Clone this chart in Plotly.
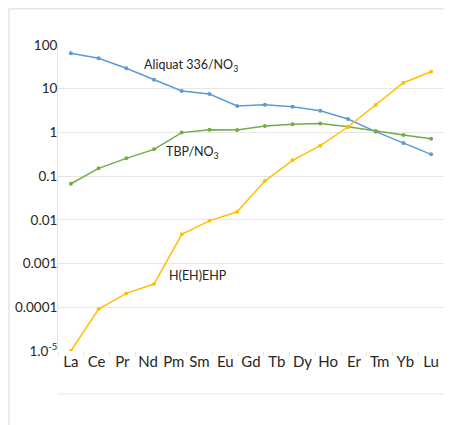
import plotly.graph_objects as go

# Category tick labels (15 lanthanides)
elements = ["La", "Ce", "Pr", "Nd", "Pm", "Sm", "Eu", "Gd", "Tb", "Dy", "Ho", "Er", "Tm", "Yb", "Lu"]

# Data points (14 per series, spread from La to Lu as in the reference)
point_index = list(range(14))
aliquat = [64.4, 49.6, 29.3, 16.1, 8.85, 7.56, 4.02, 4.3, 3.87, 3.14, 2.03, 1.04, 0.57, 0.315]
tbp = [0.067, 0.151, 0.255, 0.41, 0.99, 1.15, 1.13, 1.40, 1.53, 1.61, 1.35, 1.08, 0.87, 0.72]
hehehp = [1.0e-5, 9.1e-5, 2.08e-4, 3.4e-4, 4.67e-3, 9.5e-3, 0.0153, 0.077, 0.23, 0.497, 1.33, 4.24, 13.7, 24.5]

y_tickvals = [100, 10, 1, 0.1, 0.01, 0.001, 0.0001, 0.00001]
y_ticktext = ["100", "10", "1", "0.1", "0.01", "0.001", "0.0001", "1.0<sup>-5</sup>"]

BLUE = "#5B9BD5"
GREEN = "#70AD47"
YELLOW = "#FFC000"
GRID = "#E6E6E6"
TEXT = "#262626"
FONT = "Lato"

fig = go.Figure()
for vals, col in [(aliquat, BLUE), (tbp, GREEN), (hehehp, YELLOW)]:
    fig.add_trace(go.Scatter(
        x=point_index, y=vals, mode="lines+markers",
        line=dict(color=col, width=1.5),
        marker=dict(color=col, size=4),
        showlegend=False, cliponaxis=True, xaxis="x", yaxis="y",
    ))

# invisible trace for the category label axis
fig.add_trace(go.Scatter(x=elements, y=[None] * len(elements), xaxis="x2", yaxis="y",
                         mode="markers", showlegend=False, hoverinfo="skip"))

n_pts = len(point_index)
n_cat = len(elements)
# map first point to La center, last point to Lu center
span = (n_pts - 1) * n_cat / (n_cat - 1)
lo = -0.5 * span / n_cat
fig.update_layout(
    width=452, height=425,
    margin=dict(l=50, r=16, t=37, b=82, autoexpand=False),
    paper_bgcolor="white", plot_bgcolor="white",
    font=dict(family=FONT, color=TEXT),
    xaxis=dict(range=[lo, lo + span], showticklabels=False, showgrid=False,
               zeroline=False, showline=False, ticks="", automargin=False),
    xaxis2=dict(overlaying="x", side="bottom", type="category",
                range=[-0.5, n_cat - 0.5], showgrid=False, zeroline=False,
                showline=False, ticks="outside", ticklen=4, tickcolor=GRID,
                tickson="boundaries", tickangle=0, automargin=False,
                tickfont=dict(size=15, color=TEXT, family=FONT)),
    yaxis=dict(type="log", range=[-5, 2], tickvals=y_tickvals, ticktext=y_ticktext,
               showgrid=True, gridcolor=GRID, gridwidth=1, zeroline=False,
               showline=True, linecolor=GRID, linewidth=1, ticks="", ticklen=0,
               ticklabelstandoff=-3,
               automargin=False, tickfont=dict(size=13.5, color=TEXT, family=FONT)),
    shapes=[
        dict(type="line", xref="paper", yref="paper", x0=0, x1=1, y0=-0.1405, y1=-0.1405,
             line=dict(color=GRID, width=1)),
        dict(type="line", xref="paper", yref="paper", x0=-0.127, x1=1.1, y0=1.119, y1=1.119,
             line=dict(color=GRID, width=2)),
        dict(type="line", xref="paper", yref="paper", x0=-0.127, x1=-0.127, y0=-0.3, y1=1.119,
             line=dict(color=GRID, width=1.5)),
    ],
    annotations=[
        dict(text="Aliquat 336/NO<sub>3</sub>", x=2.57, y=1.52, xref="x", yref="y",
             xanchor="left", yanchor="middle", showarrow=False,
             font=dict(size=12.5, color=TEXT, family=FONT)),
        dict(text="TBP/NO<sub>3</sub>", x=3.36, y=-0.47, xref="x", yref="y",
             xanchor="left", yanchor="middle", showarrow=False,
             font=dict(size=12.5, color=TEXT, family=FONT)),
        dict(text="H(EH)EHP", x=3.47, y=-3.28, xref="x", yref="y",
             xanchor="left", yanchor="middle", showarrow=False,
             font=dict(size=12.5, color=TEXT, family=FONT)),
    ],
)

fig.write_html("out.html")
